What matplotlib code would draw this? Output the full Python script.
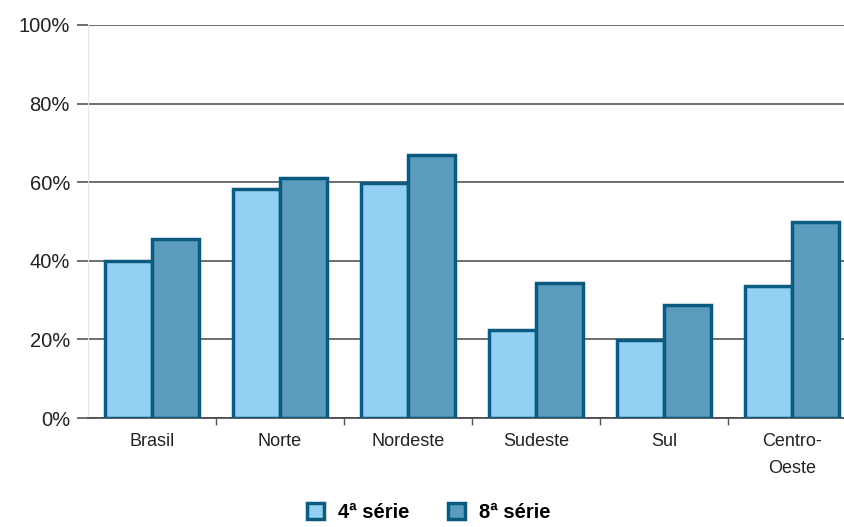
import matplotlib.pyplot as plt
import numpy as np

# regions and percentages
regioes = ["Brasil", "Norte", "Nordeste", "Sudeste", "Sul", "Centro-\nOeste"]
serie_4 = [39.9, 58.3, 59.8, 22.4, 19.9, 33.5]
serie_8 = [45.5, 61.1, 66.8, 34.4, 28.8, 50.0]
y_ticks = [0, 20, 40, 60, 80, 100]
y_labels = ["0%", "20%", "40%", "60%", "80%", "100%"]

plt.rcParams["font.family"] = ["Liberation Sans", "DejaVu Sans"]

fig = plt.figure(figsize=(8.44, 5.27), dpi=100)
# axes runs a bit past the right edge, like the original
ax = fig.add_axes([88 / 844, 1 - 418 / 527, 768 / 844, 393 / 527])

x = np.arange(len(regioes))
w = 0.365
edge = "#0b5a80"
ax.bar(x - w / 2, serie_4, w, color="#93d0f3", edgecolor=edge, linewidth=2.5,
       label="4ª série", zorder=3)
ax.bar(x + w / 2, serie_8, w, color="#5b9bbd", edgecolor=edge, linewidth=2.5,
       label="8ª série", zorder=3)

ax.set_xlim(-0.5, len(regioes) - 0.5)
ax.set_ylim(0, 100)
ax.set_yticks(y_ticks)
ax.set_yticklabels(y_labels, fontsize=14.5, color="#222222")
ax.yaxis.grid(True, color="#555555", linewidth=1.2, zorder=0)
ax.tick_params(axis="y", length=8, color="#555555", width=1.2, pad=5)

ax.set_xticks(x)
ax.set_xticklabels(regioes, fontsize=13, color="#222222", linespacing=1.75)
ax.tick_params(axis="x", length=0, pad=11)
ax.set_xticks(np.arange(0.5, len(regioes) - 1, 1), minor=True)
ax.tick_params(axis="x", which="minor", length=5, color="#555555", width=1)

for s in ["top", "right"]:
    ax.spines[s].set_visible(False)
ax.spines["left"].set_color("#e6e6e6")
ax.spines["bottom"].set_color("#444444")
ax.spines["bottom"].set_linewidth(1.2)

fig.legend(loc="lower center", bbox_to_anchor=(0.508, -0.024), ncol=2, frameon=False,
           prop={"weight": "bold", "size": 14.5}, handlelength=0.85, handleheight=0.85,
           columnspacing=1.9, handletextpad=0.7)

plt.savefig("out.png", dpi=100)
